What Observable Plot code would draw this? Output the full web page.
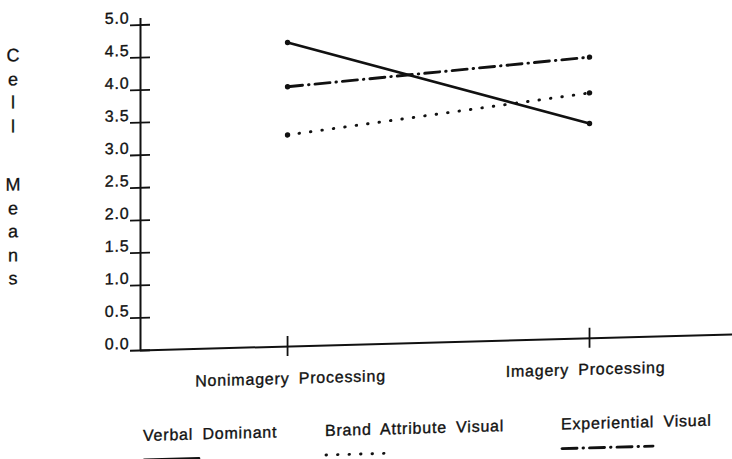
<!DOCTYPE html>
<html><head><meta charset="utf-8">
<script src="https://cdn.jsdelivr.net/npm/d3@7"></script>
<script src="https://cdn.jsdelivr.net/npm/@observablehq/plot@0.6"></script>
<style>
html,body{margin:0;padding:0;background:#fff;overflow:hidden;}
#page{position:relative;width:732px;height:459px;transform:skewY(-1.55deg);transform-origin:140px 350px;font-family:"Liberation Sans",Arial,sans-serif;color:#111;}
#chart{position:absolute;left:0;top:0;}
#chart svg text{stroke:#111;stroke-width:0.35px;}
.ylab{position:absolute;left:4px;width:18px;text-align:center;font-size:18px;line-height:23.5px;-webkit-text-stroke:0.3px #111;}
.leg{position:absolute;top:427px;font-size:16px;line-height:18px;letter-spacing:0.8px;word-spacing:4px;white-space:nowrap;-webkit-text-stroke:0.35px #111;}
.leg svg{display:block;margin-top:11px;overflow:visible;}
</style></head><body>
<div id="page"><div id="chart"></div></div>
<script>
// ---- data ----
const categories = ["Nonimagery Processing", "Imagery Processing"];
const seriesNames = ["Verbal Dominant", "Brand Attribute Visual", "Experiential Visual"];
const verbalDominant = [4.67, 3.30];
const brandAttributeVisual = [3.25, 3.77];
const experientialVisual = [3.99, 4.32];
const yTicks = [0, 0.5, 1, 1.5, 2, 2.5, 3, 3.5, 4, 4.5, 5];
const yTickLabels = ["0.0", "0.5", "1.0", "1.5", "2.0", "2.5", "3.0", "3.5", "4.0", "4.5", "5.0"];
const yTitleWords = ["Cell", "Means"];

// ---- styles / layout ----
const seriesValues = [verbalDominant, brandAttributeVisual, experientialVisual];
const seriesDash = [null, "0.5,11", "15,6,0.5,6"];
const legendLeft = [143, 325, 561];
const legendSwatchWidth = [57, 60, 93];
const ink = "#111";

const rows = [];
seriesNames.forEach((s, k) => categories.forEach((c, i) => rows.push({series: s, k, xi: i, category: c, value: seriesValues[k][i]})));

const xDomain = [-0.487, 1.4735];
const fmtY = d => yTickLabels[yTicks.indexOf(d)];

const plot = Plot.plot({
  width: 732,
  height: 395,
  marginLeft: 140,
  marginRight: 0,
  marginTop: 18,
  marginBottom: 45,
  style: {fontFamily: '"Liberation Sans", Arial, sans-serif', fontSize: "16px", letterSpacing: "0.8px", wordSpacing: "4px", color: ink, background: "white", overflow: "visible"},
  x: {domain: xDomain, label: null},
  y: {domain: [0, 5.1], label: null},
  marks: [
    Plot.ruleX([xDomain[0]], {stroke: ink, strokeWidth: 2}),
    Plot.ruleY([0], {stroke: ink, strokeWidth: 2}),
    Plot.axisY({ticks: yTicks, tickSize: 20, dx: 10, tickFormat: () => "", strokeWidth: 1.8, label: null}),
    Plot.axisY({ticks: yTicks, tickSize: 0, tickPadding: 11, dy: -7, tickFormat: fmtY, fontSize: 16, label: null}),
    Plot.axisX({ticks: [0, 1], tickSize: 20, dy: -10, tickFormat: () => "", strokeWidth: 1.8, label: null}),
    Plot.axisX({ticks: [0], tickSize: 0, tickPadding: 26, dx: 3, tickFormat: i => categories[i], fontSize: 16, label: null}),
    Plot.axisX({ticks: [1], tickSize: 0, tickPadding: 25, dx: -4, tickFormat: i => categories[i], fontSize: 16, label: null}),
    ...seriesNames.map((s, k) => Plot.line(rows.filter(r => r.k === k), {
      x: "xi", y: "value", stroke: ink, strokeWidth: k === 0 ? 2.6 : 2.9,
      strokeDasharray: seriesDash[k], strokeLinecap: "round"
    })),
    Plot.dot(rows, {x: "xi", y: "value", r: 2.7, fill: ink, stroke: null})
  ]
});
const page = document.getElementById("page");
document.getElementById("chart").appendChild(plot);

// y title (stacked letters)
const titleTops = [41, 170];
yTitleWords.forEach((w, j) => {
  const d = document.createElement("div");
  d.className = "ylab";
  d.style.top = titleTops[j] + "px";
  d.innerHTML = w.split("").join("<br>");
  page.appendChild(d);
});

// legend
seriesNames.forEach((s, k) => {
  const d = document.createElement("div");
  d.className = "leg";
  d.style.left = legendLeft[k] + "px";
  d.textContent = s;
  const svg = d3.create("svg").attr("width", legendSwatchWidth[k]).attr("height", 8);
  svg.append("line").attr("x1", 1).attr("x2", legendSwatchWidth[k] - 1).attr("y1", 4).attr("y2", 4)
    .attr("stroke", ink).attr("stroke-width", k === 0 ? 2.6 : 2.9).attr("stroke-linecap", "round")
    .attr("stroke-dasharray", seriesDash[k] || null);
  d.appendChild(svg.node());
  page.appendChild(d);
});
</script>
</body></html>
